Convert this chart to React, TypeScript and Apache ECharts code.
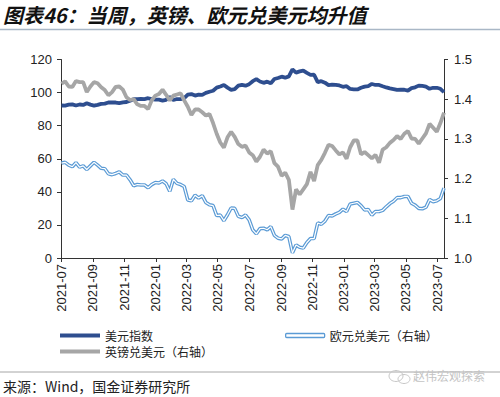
import React, { useEffect, useRef } from "react";
import * as echarts from "echarts";

// Weekly observations (Fridays) starting 2021-07-02, 107 weeks to 2023-07-14
const weekCount = 107;

// US Dollar Index (left axis)
const dxy = [
  92.2, 92.1, 92.7, 92.9, 92.2,
  92.8, 92.5, 93.5, 92.7,
  92.1, 92.6, 93.2, 93.3,
  94.0, 94.1, 94.0, 93.6, 94.1,
  94.3, 95.1, 96.0, 96.1,
  96.2, 96.1, 96.6, 96.0, 95.7,
  // 2022
  95.7, 95.2, 95.6, 97.3,
  95.5, 96.1, 96.0, 96.6,
  98.7, 99.1, 98.2, 98.8,
  98.6, 99.8, 100.5, 101.1, 103.0,
  103.7, 104.6, 103.0, 101.7,
  102.1, 104.2, 104.7, 104.2,
  105.1, 106.9, 108.1, 106.7, 105.9,
  106.6, 105.6, 108.2, 108.8,
  109.6, 109.0, 109.8, 114.0, 112.1,
  112.8, 113.3, 111.9, 110.7,
  110.8, 106.3, 106.9, 106.0,
  104.5, 104.8, 104.7, 104.3, 103.5,
  // 2023
  103.9, 102.2, 102.0, 101.9,
  102.9, 103.6, 103.9, 105.2,
  104.6, 104.6, 103.8, 103.1, 102.5,
  102.1, 101.6, 101.8, 101.7,
  101.2, 102.7, 103.2, 104.2,
  104.0, 103.6, 102.3, 102.9, 102.9,
  102.3, 100.2,
];

// GBP/USD as drawn on the right axis
const gbp = [
  1.439, 1.445, 1.432, 1.431, 1.446,
  1.443, 1.443, 1.418, 1.432,
  1.443, 1.440, 1.430, 1.423,
  1.410, 1.418, 1.431, 1.432, 1.424,
  1.405, 1.398, 1.400, 1.387,
  1.383, 1.383, 1.375, 1.397, 1.409,
  // 2022
  1.413, 1.424, 1.411, 1.397,
  1.409, 1.412, 1.415, 1.397,
  1.381, 1.360, 1.374, 1.374,
  1.367, 1.359, 1.363, 1.340, 1.313,
  1.291, 1.278, 1.304, 1.318,
  1.305, 1.287, 1.280, 1.283,
  1.266, 1.259, 1.243, 1.255, 1.273,
  1.263, 1.269, 1.239, 1.230,
  1.207, 1.215, 1.197, 1.122, 1.173,
  1.160, 1.173, 1.186, 1.217,
  1.194, 1.234, 1.247, 1.265,
  1.285, 1.282, 1.271, 1.261, 1.266,
  // 2023
  1.250, 1.279, 1.296, 1.296,
  1.261, 1.267, 1.259, 1.251,
  1.260, 1.240, 1.273, 1.279, 1.290,
  1.297, 1.307, 1.300, 1.313,
  1.320, 1.301, 1.300, 1.288,
  1.301, 1.314, 1.338, 1.328, 1.318,
  1.340, 1.366,
];

// EUR/USD as drawn on the right axis
const eur = [
  1.239, 1.241, 1.234, 1.230, 1.240,
  1.229, 1.232, 1.223, 1.232,
  1.241, 1.234, 1.226, 1.225,
  1.212, 1.210, 1.213, 1.217, 1.209,
  1.209, 1.197, 1.182, 1.185,
  1.184, 1.184, 1.177, 1.185, 1.190,
  // 2022
  1.189, 1.194, 1.187, 1.168,
  1.198, 1.188, 1.185, 1.180,
  1.146, 1.144, 1.158, 1.151,
  1.157, 1.140, 1.134, 1.132, 1.107,
  1.108, 1.094, 1.109, 1.126,
  1.125, 1.105, 1.102, 1.108,
  1.096, 1.071, 1.061, 1.074, 1.075,
  1.071, 1.079, 1.057, 1.050,
  1.048, 1.057, 1.054, 1.013, 1.033,
  1.027, 1.025, 1.039, 1.049,
  1.049, 1.088, 1.085, 1.093,
  1.107, 1.106, 1.111, 1.115, 1.123,
  // 2023
  1.117, 1.136, 1.138, 1.140,
  1.132, 1.121, 1.122, 1.108,
  1.117, 1.117, 1.120, 1.129, 1.137,
  1.143, 1.152, 1.152, 1.155,
  1.155, 1.138, 1.133, 1.125,
  1.124, 1.128, 1.147, 1.142, 1.144,
  1.150, 1.176,
];

const tickLabels = [
  "2021-07", "2021-09", "2021-11", "2022-01", "2022-03", "2022-05", "2022-07",
  "2022-09", "2022-11", "2023-01", "2023-03", "2023-05", "2023-07",
];

const leftTicks = [0, 20, 40, 60, 80, 100, 120];
const rightTicks = [1.0, 1.1, 1.2, 1.3, 1.4, 1.5];

const NAME_DXY = "美元指数";
const NAME_EUR = "欧元兑美元（右轴）";
const NAME_GBP = "英镑兑美元（右轴）";

const C_DXY = "#2E4E8F";
const C_GBP = "#A6A6A6";
const C_EUR = "#5B9BD5";

function dates(): number[] {
  const out: number[] = [];
  for (let i = 0; i < weekCount; i++) out.push(new Date(2021, 6, 2 + 7 * i).getTime());
  return out;
}

function tickTs(label: string): number {
  const [y, m] = label.split("-").map(Number);
  return new Date(y, m - 1, 1).getTime();
}

export default function App() {
  const ref = useRef<HTMLDivElement>(null);
  useEffect(() => {
    if (!ref.current) return;
    const chart = echarts.init(ref.current, undefined, { renderer: "svg" });
    const ds = dates();
    const pair = (arr: number[]) => arr.map((v, i) => [ds[i], v]);
    const tickVals = tickLabels.map(tickTs);
    const axisFont = { fontFamily: "Liberation Sans, Arial, sans-serif", fontSize: 13, color: "#222" };
    const cjk = "Noto Sans CJK SC";

    chart.setOption({
      animation: false,
      backgroundColor: "#fff",
      grid: { left: 61, right: 56, top: 59.5, bottom: 139, containLabel: false },
      xAxis: {
        type: "value",
        scale: true,
        min: new Date(2021, 6, 1).getTime(),
        max: new Date(2023, 6, 14).getTime(),
        axisLine: { show: true, onZero: false, lineStyle: { color: "#333", width: 1 } },
        axisTick: { show: true, length: 4, customValues: tickVals, lineStyle: { color: "#333" } },
        splitLine: { show: false },
        axisLabel: {
          ...axisFont,
          rotate: 90,
          margin: 6,
          customValues: tickVals,
          formatter: (v: number) => {
            const d = new Date(v);
            return `${d.getFullYear()}-${String(d.getMonth() + 1).padStart(2, "0")}`;
          },
        },
      },
      yAxis: [
        {
          type: "value",
          min: leftTicks[0],
          max: leftTicks[leftTicks.length - 1],
          interval: 20,
          position: "left",
          axisLine: { show: true, lineStyle: { color: "#333" } },
          axisTick: { show: true, length: 4, lineStyle: { color: "#333" } },
          splitLine: { show: false },
          axisLabel: { ...axisFont, margin: 9 },
        },
        {
          type: "value",
          min: rightTicks[0],
          max: rightTicks[rightTicks.length - 1],
          interval: 0.1,
          position: "right",
          axisLine: { show: true, lineStyle: { color: "#333" } },
          axisTick: { show: true, length: 4, lineStyle: { color: "#333" } },
          splitLine: { show: false },
          axisLabel: { ...axisFont, margin: 10, formatter: (v: number) => v.toFixed(1) },
        },
      ],
      legend: [
        {
          orient: "vertical",
          left: 60,
          top: 329,
          padding: 0,
          itemGap: 3,
          itemWidth: 40,
          itemHeight: 4,
          textStyle: { fontFamily: cjk, fontSize: 12, color: "#222", lineHeight: 13 },
          data: [
            { name: NAME_DXY, icon: "rect", itemStyle: { color: C_DXY } },
            { name: NAME_GBP, icon: "rect", itemStyle: { color: C_GBP } },
          ],
        },
        {
          orient: "vertical",
          left: 285,
          top: 329,
          padding: 0,
          itemGap: 3,
          itemWidth: 39,
          itemHeight: 4,
          textStyle: { fontFamily: cjk, fontSize: 12, color: "#222", lineHeight: 13 },
          data: [
            {
              name: NAME_EUR,
              icon: "roundRect",
              itemStyle: { color: "#fff", borderColor: C_EUR, borderWidth: 1.3 },
            },
          ],
        },
      ],
      series: [
        {
          name: NAME_DXY,
          type: "line",
          yAxisIndex: 0,
          showSymbol: false,
          symbol: "none",
          data: pair(dxy),
          lineStyle: { color: C_DXY, width: 3.8 },
          itemStyle: { color: C_DXY },
          z: 3,
        },
        {
          name: NAME_EUR,
          type: "line",
          yAxisIndex: 1,
          showSymbol: false,
          symbol: "none",
          data: pair(eur),
          lineStyle: { color: C_EUR, width: 3.6 },
          itemStyle: { color: C_EUR },
          z: 3,
        },
        {
          name: "eur_inner",
          type: "line",
          yAxisIndex: 1,
          showSymbol: false,
          symbol: "none",
          silent: true,
          data: pair(eur),
          lineStyle: { color: "#fff", width: 1.2 },
          z: 3,
        },
        {
          name: NAME_GBP,
          type: "line",
          yAxisIndex: 1,
          showSymbol: false,
          symbol: "none",
          data: pair(gbp),
          lineStyle: { color: C_GBP, width: 3.8 },
          itemStyle: { color: C_GBP },
          z: 3,
        },
      ],
      graphic: [
        {
          type: "text",
          left: 3,
          top: 4,
          style: {
            text: "图表46：当周，英镑、欧元兑美元均升值",
            fontFamily: cjk,
            fontSize: 20,
            fontWeight: "bold",
            fontStyle: "italic",
            fill: "#111",
          },
        },
        {
          type: "line",
          shape: { x1: 0, y1: 29.5, x2: 500, y2: 29.5 },
          style: { stroke: "#A9B7C6", lineWidth: 1.5 },
        },
        {
          type: "line",
          shape: { x1: 0, y1: 372, x2: 500, y2: 372 },
          style: { stroke: "#A6A6A6", lineWidth: 1 },
        },
        {
          type: "text",
          left: 3,
          top: 379,
          style: {
            text: "来源：Wind，国金证券研究所",
            fontFamily: cjk,
            fontSize: 14,
            fill: "#222",
          },
        },
        {
          type: "ellipse",
          shape: { cx: 396, cy: 376, rx: 7, ry: 5.5 },
          style: { fill: "none", stroke: "#C8C8C8", lineWidth: 1 },
        },
        {
          type: "ellipse",
          shape: { cx: 404, cy: 379, rx: 6, ry: 4.5 },
          style: { fill: "none", stroke: "#C8C8C8", lineWidth: 1 },
        },
        {
          type: "text",
          left: 413,
          top: 369,
          style: {
            text: "赵伟宏观探索",
            fontFamily: cjk,
            fontSize: 12,
            fill: "#C4C4C4",
          },
        },
      ],
    });
    return () => chart.dispose();
  }, []);

  return (
    <div
      ref={ref}
      style={{ position: "fixed", left: 0, top: 0, width: 500, height: 397, background: "#fff" }}
    />
  );
}
